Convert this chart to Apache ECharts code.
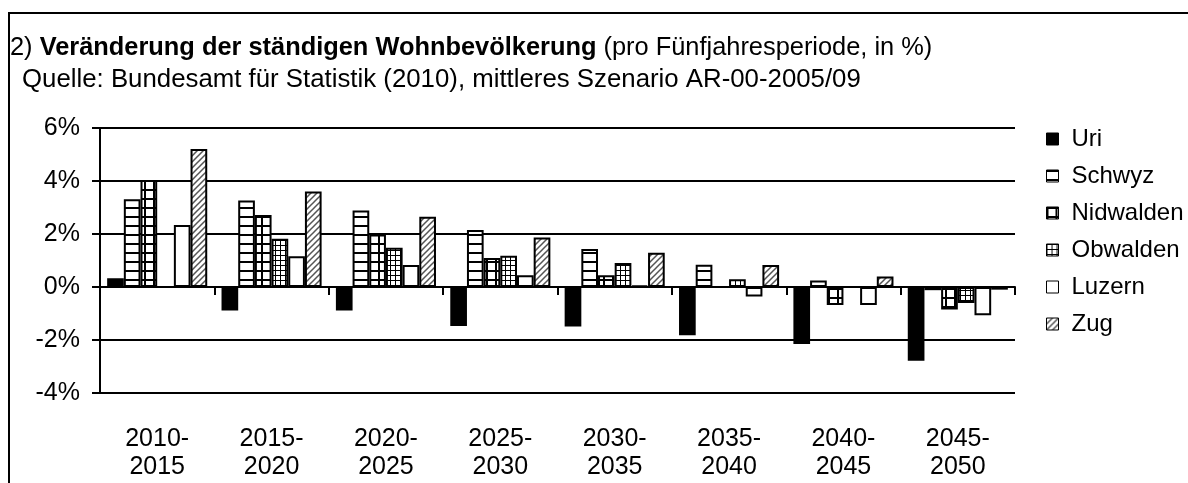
<!DOCTYPE html>
<html>
<head>
<meta charset="utf-8">
<script src="https://cdn.jsdelivr.net/npm/echarts@6/dist/echarts.min.js"></script>
<style>
  html, body { margin: 0; padding: 0; background: #fff; }
  #chart { width: 1188px; height: 483px; }
</style>
</head>
<body>
<div id="chart"></div>
<script>
// Zeitperioden (Kategorien)
var periods = ['2010-2015', '2015-2020', '2020-2025', '2025-2030', '2030-2035', '2035-2040', '2040-2045', '2045-2050'];
// Kantone
var cantons = ['Uri', 'Schwyz', 'Nidwalden', 'Obwalden', 'Luzern', 'Zug'];
// Veränderung in % pro Fünfjahresperiode
var uri       = [0.33, -0.89, -0.89, -1.47, -1.49, -1.82, -2.15, -2.78];
var schwyz    = [3.31, 3.26, 2.89, 2.15, 1.43, 0.84, 0.25, -0.12];
var nidwalden = [4.04, 2.72, 1.98, 1.09, 0.44, 0, -0.68, -0.85];
var obwalden  = [0, 1.82, 1.48, 1.18, 0.91, 0.29, 0, -0.6];
var luzern    = [2.34, 1.16, 0.83, 0.44, 0.05, -0.36, -0.68, -1.07];
var zug       = [5.21, 3.6, 2.65, 1.87, 1.29, 0.83, 0.4, -0.1];
var yTicks = [-4, -2, 0, 2, 4, 6];

// Schraffuren wie im Excel-Original
function pattern(w, h, draw) {
  var c = document.createElement('canvas');
  c.width = w; c.height = h;
  var ctx = c.getContext('2d');
  ctx.fillStyle = '#fff';
  ctx.fillRect(0, 0, w, h);
  ctx.fillStyle = '#000';
  ctx.strokeStyle = '#000';
  draw(ctx);
  return { image: c, repeat: 'repeat' };
}
var fills = {
  Uri: '#000',
  Schwyz: pattern(9, 9, function (ctx) { ctx.fillRect(0, 0, 9, 2); }),
  Nidwalden: pattern(9, 9, function (ctx) { ctx.fillRect(0, 0, 9, 2); ctx.fillRect(0, 0, 2, 9); }),
  Obwalden: pattern(5, 5, function (ctx) { ctx.fillRect(0, 0, 5, 1); ctx.fillRect(0, 0, 1, 5); }),
  Luzern: '#fff',
  Zug: pattern(6, 6, function (ctx) {
    ctx.strokeStyle = '#555';
    ctx.lineWidth = 1.5;
    ctx.beginPath();
    ctx.moveTo(-1, 7); ctx.lineTo(7, -1);
    ctx.moveTo(-4, 4); ctx.lineTo(4, -4);
    ctx.moveTo(2, 10); ctx.lineTo(10, 2);
    ctx.stroke();
  })
};
var values = { Uri: uri, Schwyz: schwyz, Nidwalden: nidwalden, Obwalden: obwalden, Luzern: luzern, Zug: zug };

var font = 'Liberation Sans, Arial, sans-serif';
var chart = echarts.init(document.getElementById('chart'));

chart.setOption({
  animation: false,
  textStyle: { fontFamily: font, color: '#000' },
  graphic: [{
    type: 'rect',
    shape: { x: 9, y: 13, width: 1400, height: 700 },
    style: { fill: 'none', stroke: '#000', lineWidth: 2 }
  }],
  title: [{
    left: 5, top: 30,
    text: '{n|2) }{b|Veränderung der ständigen Wohnbevölkerung}{n| (pro Fünfjahresperiode, in %)}',
    textStyle: {
      fontWeight: 'normal',
      rich: {
        n: { fontSize: 25.4, fontFamily: font, fontWeight: 'normal', color: '#000' },
        b: { fontSize: 25.4, fontFamily: font, fontWeight: 'bold', color: '#000' }
      }
    }
  }, {
    left: 17, top: 62,
    text: 'Quelle: Bundesamt für Statistik (2010), mittleres Szenario AR-00-2005/09',
    textStyle: { fontSize: 25.8, fontWeight: 'normal', fontFamily: font, color: '#000' }
  }],
  legend: {
    orient: 'vertical',
    left: 1046, top: 127,
    padding: 0,
    itemWidth: 12, itemHeight: 12,
    itemGap: 13,
    icon: 'rect',
    data: cantons,
    textStyle: { fontSize: 24, lineHeight: 24, color: '#000', fontFamily: font, padding: [0, 0, 0, 8] },
    itemStyle: { borderColor: '#000', borderWidth: 1 }
  },
  grid: { left: 100, right: 173, top: 128, bottom: 90 },
  xAxis: [{
    type: 'category',
    data: periods,
    axisLine: { onZero: true, lineStyle: { color: '#000', width: 2 } },
    axisTick: { show: true, length: 8, lineStyle: { color: '#000', width: 2 } },
    axisLabel: { show: false }
  }, {
    type: 'category',
    data: periods,
    position: 'bottom',
    axisLine: { show: false, onZero: false },
    axisTick: { show: false },
    axisLabel: {
      margin: 32,
      fontSize: 25,
      lineHeight: 28,
      color: '#000',
      fontFamily: font,
      formatter: function (v) { return v.replace('-', '-\n'); }
    }
  }],
  yAxis: {
    type: 'value',
    min: yTicks[0], max: yTicks[yTicks.length - 1], interval: 2,
    axisLine: { show: true, lineStyle: { color: '#000', width: 2 } },
    axisTick: { show: true, length: 8, lineStyle: { color: '#000', width: 2 } },
    splitLine: { lineStyle: { color: '#000', width: 2 } },
    axisLabel: { margin: 20, fontSize: 25, color: '#000', fontFamily: font, formatter: '{value}%' }
  },
  series: cantons.map(function (name) {
    return {
      name: name,
      type: 'bar',
      xAxisIndex: 0,
      data: values[name],
      barGap: '0%',
      barCategoryGap: '12.5%',
      itemStyle: { color: fills[name], borderColor: '#000', borderWidth: 2 }
    };
  })
});
</script>
</body>
</html>
